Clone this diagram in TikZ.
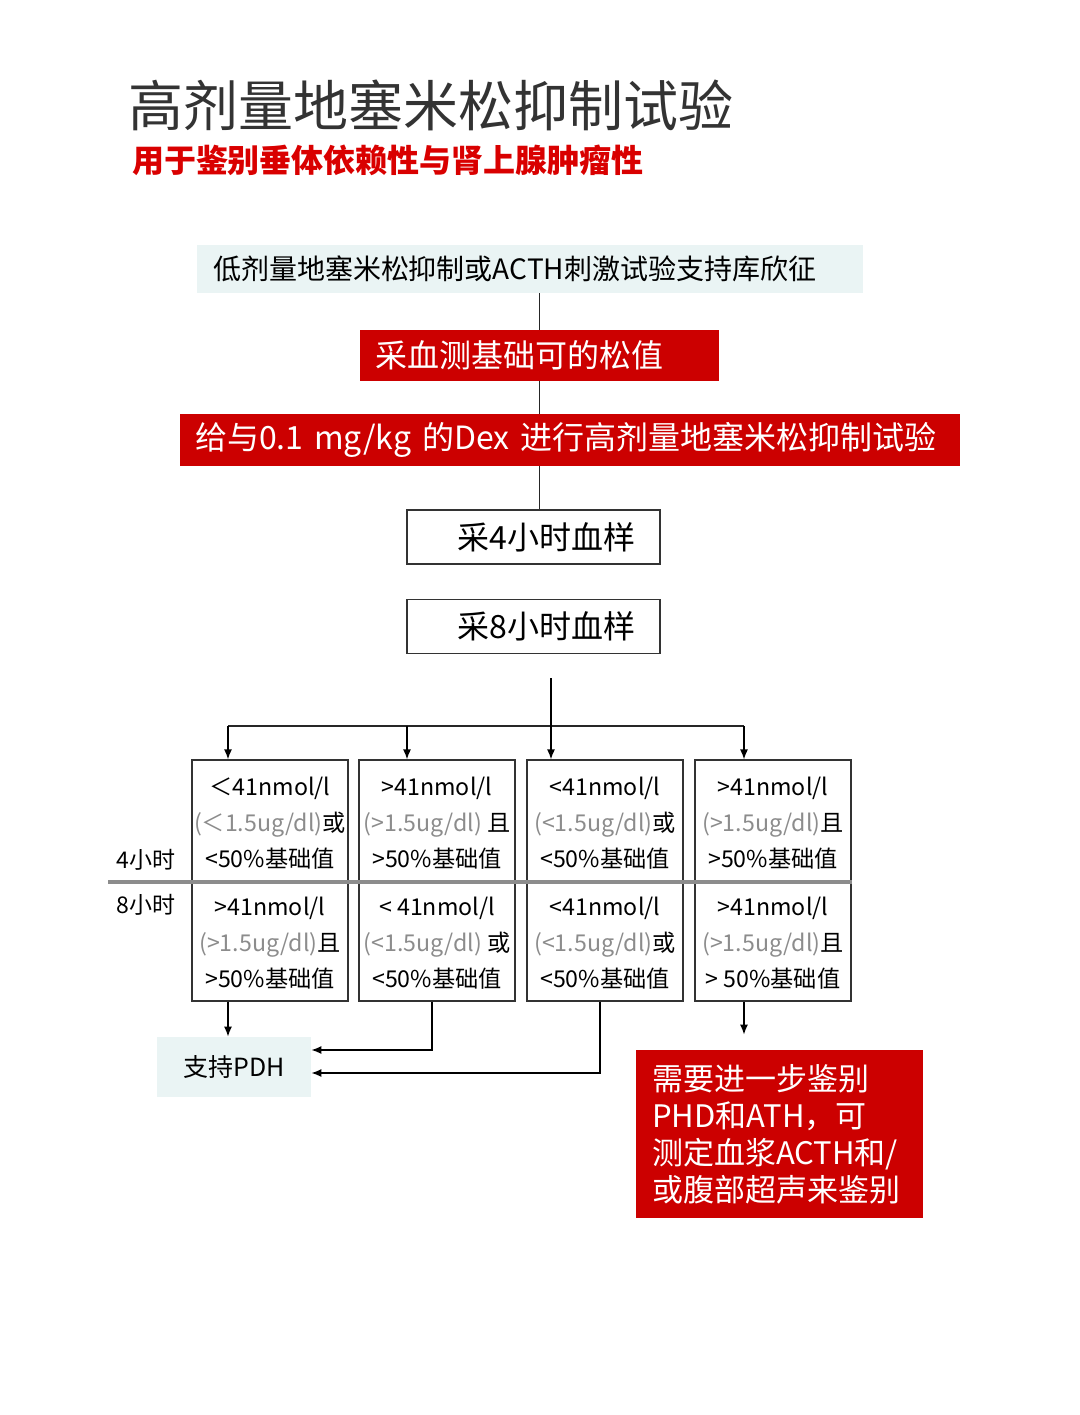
\documentclass[tikz,border=0pt]{standalone}
\usepackage{fontspec}
\setmainfont{Noto Sans CJK SC}
\usepackage{xcolor}
\usetikzlibrary{arrows.meta,positioning}
\definecolor{dexred}{RGB}{204,0,0}
\definecolor{paleblue}{RGB}{234,244,244}
\definecolor{midgray}{RGB}{140,140,140}
\definecolor{titlegray}{RGB}{51,51,51}

\begin{document}
\begin{tikzpicture}[
  x=0.5pt, y=-0.5pt,
  >={Latex[length=5pt,width=4pt]},
  every node/.style={inner sep=0pt},
  pale/.style={fill=paleblue, align=left},
  redbox/.style={fill=dexred, text=white, align=left, font=\fontsize{16}{19}\selectfont},
  plain/.style={draw=black!80, line width=0.6pt, fill=white, minimum width=126.5pt, minimum height=27pt, font=\fontsize{16}{19}\selectfont},
  col/.style={draw=black!80, line width=0.6pt, minimum width=78pt, minimum height=120.5pt},
  cond/.style={align=center, font=\fontsize{11.6}{18}\selectfont},
  link/.style={draw=black!85, line width=0.7pt},
  flow/.style={->, line width=0.7pt},
  sep/.style={draw=midgray, line width=2pt}
]
\useasboundingbox (0,0) rectangle (1080,1415);

% title
\node[font=\fontsize{27.5}{32}\selectfont, text=titlegray] (title) at (431,105) {高剂量地塞米松抑制试验};
\node[font=\fontsize{16}{19}\selectfont\bfseries, text=red!85!black] (sub) at (388,160) {用于鉴别垂体依赖性与肾上腺肿瘤性};

% main steps
\node[pale, minimum height=24pt, text width=317pt, inner xsep=8pt, font=\fontsize{14}{17}\selectfont] (top) at (530,269) {低剂量地塞米松抑制或ACTH刺激试验支持库欣征};
\node[redbox, minimum height=25.5pt, text width=164.5pt, inner xsep=7.5pt] (samp) at (539.5,355.5) {采血测基础可的松值};
\node[redbox, minimum height=26pt, text width=375pt, inner xsep=7.5pt] (dex) at (570,440) {给与0.1 mg/kg 的Dex 进行高剂量地塞米松抑制试验};
\node[plain] (h4) at (533.5,537) {\hspace{13pt}采4小时血样};
\node[plain] (h8) at (533.5,626.5) {\hspace{13pt}采8小时血样};

\draw[link] (top.south -| samp.north) -- (samp.north);
\draw[link] (samp) -- (samp |- dex.north);
\draw[link] (dex.south -| samp) -- (h4.north -| samp);

% four outcomes
\node[col] (c1) at (270,880.5) {};
\node[col] (c2) at (437,880.5) {};
\node[col] (c3) at (605,880.5) {};
\node[col] (c4) at (773,880.5) {};

\coordinate (split) at (551,678);
\coordinate (a1) at (228,726);
\coordinate (a2) at (407,726);
\coordinate (a4) at (744,726);
\draw[link] (a1) -- (a4);
\draw[flow] (split) -- (split |- c3.north);
\draw[flow] (a1) -- (a1 |- c1.north);
\draw[flow] (a2) -- (a2 |- c2.north);
\draw[flow] (a4) -- (a4 |- c4.north);

\node[cond] (t1) at (270,823) {＜41nmol/l\\{\color{midgray}(＜1.5ug/dl)}或\\<50\%基础值};
\node[cond] (t2) at (437,823) {>41nmol/l\\{\color{midgray}(>1.5ug/dl)} 且\\>50\%基础值};
\node[cond] (t3) at (605,823) {<41nmol/l\\{\color{midgray}(<1.5ug/dl)}或\\<50\%基础值};
\node[cond] (t4) at (773,823) {>41nmol/l\\{\color{midgray}(>1.5ug/dl)}且\\>50\%基础值};
\node[cond] (b1) at (270,943) {>41nmol/l\\{\color{midgray}(>1.5ug/dl)}且\\>50\%基础值};
\node[cond] (b2) at (437,943) {< 41nmol/l\\{\color{midgray}(<1.5ug/dl)} 或\\<50\%基础值};
\node[cond] (b3) at (605,943) {<41nmol/l\\{\color{midgray}(<1.5ug/dl)}或\\<50\%基础值};
\node[cond] (b4) at (773,943) {>41nmol/l\\{\color{midgray}(>1.5ug/dl)}且\\> 50\%基础值};

\coordinate (sepL) at (108,882);
\draw[sep] (sepL) -- (sepL -| c4.east);
\node[font=\fontsize{11.5}{14}\selectfont] (lbl4) at (146,860) {4小时};
\node[font=\fontsize{11.5}{14}\selectfont] (lbl8) at (146,905) {8小时};

% results
\node[pale, minimum width=77pt, minimum height=30pt, font=\fontsize{12.5}{15}\selectfont] (pdh) at (234,1067) {支持PDH};
\node[redbox, minimum height=84pt, text width=127.5pt, inner xsep=8pt, font=\fontsize{15.5}{18.5}\selectfont] (next) at (779.5,1134) {需要进一步鉴别\\PHD和ATH，可\\测定血浆ACTH和/\\或腹部超声来鉴别};

\draw[flow] (c1.south -| a1) -- (pdh.north -| a1);
\draw[flow] ([xshift=-2.5pt]c2.south) |- ([yshift=8.5pt]pdh.east);
\draw[flow] ([xshift=-2.5pt]c3.south) |- ([yshift=-3pt]pdh.east);
\draw[flow] (c4.south -| a4) -- ([yshift=7.5pt]next.north -| a4);
\end{tikzpicture}
\end{document}
